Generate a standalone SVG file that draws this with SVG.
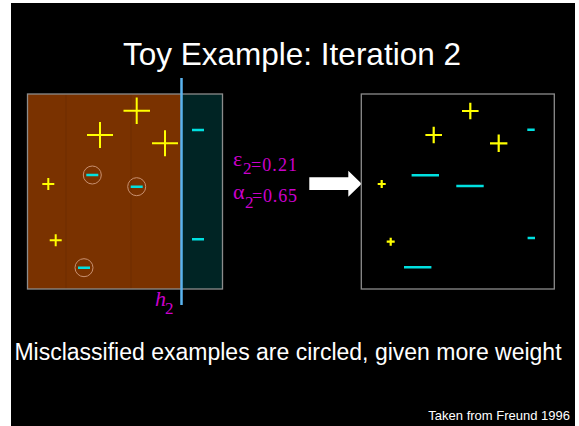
<svg xmlns="http://www.w3.org/2000/svg" width="579" height="426" viewBox="0 0 579 426">
<style>
.title{font-family:"Liberation Sans",Arial,sans-serif;fill:#ffffff}
.mag{font-family:"Liberation Serif","Times New Roman",serif;fill:#cc00cc}
.pos{stroke:#ffff00;stroke-width:2;fill:none}
.posb{stroke:#ffff00;stroke-width:2.2;fill:none}
.neg{stroke:#00e0e0;stroke-width:2.5;fill:none}
.ring{stroke:#c89070;stroke-width:1;fill:none}
.frame{stroke:#8c8c8c;stroke-width:1.3}
</style>
<rect x="0" y="0" width="579" height="426" fill="#ffffff"/>
<rect x="11" y="3" width="564" height="423" fill="#000000"/>
<g id="title"><text class="title" x="292" y="65" font-size="31.5" text-anchor="middle">Toy Example: Iteration 2</text></g>
<g id="left-panel">
<rect x="27.5" y="94" width="154" height="195" fill="#7a3200"/>
<rect x="181.5" y="94" width="41" height="195" fill="#002424"/>
<line x1="66" y1="94" x2="66" y2="289" stroke="#6e2d00" stroke-width="1"/>
<line x1="131" y1="94" x2="131" y2="289" stroke="#6e2d00" stroke-width="1"/>
<rect x="27.5" y="94" width="195" height="195" fill="none" class="frame"/>
<path class="pos" d="M123.5 110.7h26.5M136.7 97.5v26.5M87 135h26M100 122v26M152 143.3h26M165 130.3v26M42.3 184h12M48.3 178v12M49.7 240.3h12M55.7 234.3v12"/>
<path class="neg" d="M192 130h12M192 239.3h12M86.3 175h12M130.7 186.7h12M78 267.7h12"/>
<circle class="ring" cx="92.3" cy="175" r="9"/>
<circle class="ring" cx="136.7" cy="186.7" r="9"/>
<circle class="ring" cx="84" cy="267.7" r="9"/>
</g>
<g id="h2">
<line x1="181.5" y1="78" x2="181.5" y2="305" stroke="#5ab4f0" stroke-width="2.5"/>
<text class="mag" x="155" y="306" font-size="22" font-style="italic">h</text>
<text class="mag" x="165" y="314" font-size="17">2</text>
</g>
<g id="stats">
<text class="mag" x="233" y="166" font-size="22">ε</text>
<text class="mag" x="243" y="173.5" font-size="17">2</text>
<text class="mag" x="251" y="171" font-size="18" textLength="46">=0.21</text>
<text class="mag" x="233" y="198.5" font-size="22">α</text>
<text class="mag" x="245" y="207.5" font-size="17">2</text>
<text class="mag" x="252" y="201.5" font-size="18" textLength="45">=0.65</text>
</g>
<g id="connectors">
<polygon points="309.3,177.3 348.3,177.3 348.3,170.7 361.7,183.7 348.3,196.7 348.3,190 309.3,190" fill="#ffffff"/>
</g>
<g id="right-panel">
<rect x="361.3" y="94" width="193" height="195" fill="#000000" class="frame"/>
<path class="posb" d="M462 111h16.6M470.3 102.7v16.6M425.4 135h16.6M433.7 126.7v16.6M490 143.3h17.4M498.7 134.6v17.4M377.7 184h8M381.7 180v8M386.7 241.7h8M390.7 237.7v8"/>
<path class="neg" d="M527.3 129.7h7.4M527.6 238h7.4M411.6 175.3h27.4M456.3 186h27.4M404 267.3h27.4"/>
</g>
<g id="caption"><text class="title" x="288" y="360" font-size="23" text-anchor="middle">Misclassified examples are circled, given more weight</text></g>
<g id="credit"><text class="title" x="570" y="420" font-size="13" text-anchor="end">Taken from Freund 1996</text></g>
</svg>
